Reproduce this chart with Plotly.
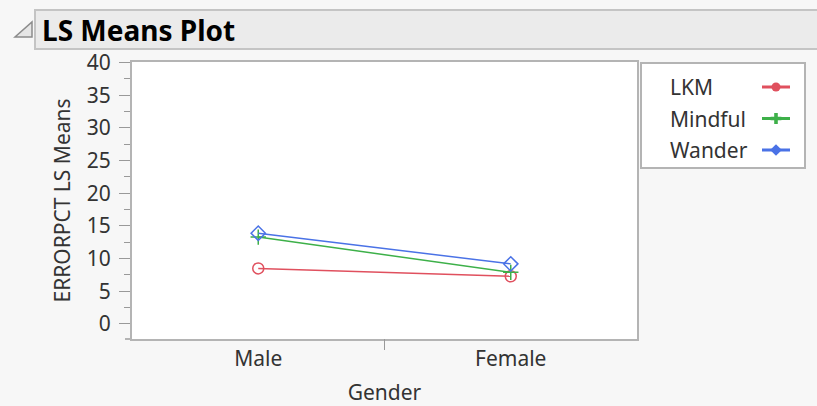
import plotly.graph_objects as go

categories = ["Male", "Female"]
series_names = ["LKM", "Mindful", "Wander"]
lkm = [8.5, 7.3]
mindful = [13.3, 7.9]
wander = [13.9, 9.2]
y_ticks = [0, 5, 10, 15, 20, 25, 30, 35, 40]

colors = ["#e0505e", "#3db049", "#4a72e6"]
symbols = ["circle-open", "cross-thin-open", "diamond-open"]
legend_symbols = ["circle", "cross", "diamond"]
values = [lkm, mindful, wander]

W, H = 817, 406
ML, MR, MT, MB = 132, 12, 62, 67
PW = W - ML - MR
PH = H - MT - MB
PLOT_R = 637

def px(x):
    return (x - ML) / PW

def py(y):
    return (H - MB - y) / PH

FONT = "Segoe UI, Noto Sans, Open Sans, sans-serif"
FS = 21

fig = go.Figure()
for name, vals, c, s in zip(series_names, values, colors, symbols):
    fig.add_trace(go.Scatter(
        x=categories, y=vals, mode="lines+markers", name=name,
        line=dict(color=c, width=1.5),
        marker=dict(symbol=s, size=11, color=c, line=dict(color=c, width=1.5)),
        showlegend=False, xaxis="x", yaxis="y",
    ))

# legend glyphs on a helper axis
for i, (name, c, s) in enumerate(zip(series_names, colors, legend_symbols)):
    fig.add_trace(go.Scatter(
        x=[0, 0.5, 1], y=[i + 1] * 3, mode="lines",
        line=dict(color=c, width=3), showlegend=False, hoverinfo="skip",
        xaxis="x2", yaxis="y2",
    ))
    fig.add_trace(go.Scatter(
        x=[0.5], y=[i + 1], mode="markers",
        marker=dict(symbol=s, size=9, color=c, line=dict(width=0)),
        showlegend=False, hoverinfo="skip", xaxis="x2", yaxis="y2",
    ))

main_dom_x = [0, px(PLOT_R)]

fig.update_layout(
    width=W, height=H,
    margin=dict(l=ML, r=MR, t=MT, b=MB, autoexpand=False),
    paper_bgcolor="#f7f7f7", plot_bgcolor="#ffffff",
    font=dict(family=FONT, size=FS, color="#333333"),
    xaxis=dict(
        domain=main_dom_x, type="category", range=[-0.5, 1.5], automargin=False,
        showline=True, linecolor="#b4b4b4", linewidth=2, mirror=True,
        showgrid=False, zeroline=False, ticks="",
        tickfont=dict(size=FS, color="#333333"),
        title=dict(text="Gender", font=dict(size=FS, color="#333333"), standoff=14),
    ),
    yaxis=dict(
        range=[-2.3, 40.1], tickvals=y_ticks, automargin=False,
        showline=True, linecolor="#b4b4b4", linewidth=2, mirror=True,
        showgrid=False, zeroline=False,
        ticks="outside", ticklen=11, tickcolor="#999999", tickwidth=1,
        ticklabelstandoff=4,
        minor=dict(dtick=2.5, tick0=0, ticks="outside", ticklen=6, tickcolor="#999999", tickwidth=1),
        tickfont=dict(size=FS, color="#333333"),
        title=dict(text="ERRORPCT LS Means", font=dict(size=FS, color="#333333"), standoff=10),
    ),
    xaxis2=dict(domain=[px(762), px(790)], range=[0, 1], visible=False, fixedrange=True),
    yaxis2=dict(domain=[py(165.75), py(71.25)], range=[3.5, 0.5], visible=False, fixedrange=True,
                anchor="x2"),
)

shapes = []
# title bar
shapes.append(dict(type="rect", xref="paper", yref="paper",
                   x0=px(35), x1=px(830), y0=py(49), y1=py(10),
                   fillcolor="#ebebeb", line=dict(color="#c4c4c4", width=2), layer="below"))
# triangle icon
shapes.append(dict(type="path", xref="paper", yref="paper",
                   path=f"M {px(15)},{py(37)} L {px(32)},{py(37)} L {px(32)},{py(22)} Z",
                   fillcolor="#e6e6e6", line=dict(color="#8c8c8c", width=1.5)))
# legend box
shapes.append(dict(type="rect", xref="paper", yref="paper",
                   x0=px(641), x1=px(805), y0=py(168), y1=py(63),
                   fillcolor="#ffffff", line=dict(color="#b4b4b4", width=2), layer="below"))
# x boundary tick
shapes.append(dict(type="line", xref="x", yref="paper", x0=0.5, x1=0.5,
                   y0=0, y1=py(350), line=dict(color="#999999", width=1)))
# x-axis line extension to the left
shapes.append(dict(type="line", xref="paper", yref="paper", x0=px(125), x1=0,
                   y0=0, y1=0, line=dict(color="#b4b4b4", width=2)))
fig.update_layout(shapes=shapes)

ann = [dict(text="<b>LS Means Plot</b>", xref="paper", yref="paper",
            x=px(40), y=py(30), xanchor="left", yanchor="middle", showarrow=False,
            font=dict(family=FONT, size=28, color="#000000"))]
for i, name in enumerate(series_names):
    ann.append(dict(text=name, xref="paper", yref="paper",
                    x=px(668), y=py(87 + i * 31.5), xanchor="left", yanchor="middle",
                    showarrow=False, font=dict(family=FONT, size=FS, color="#333333")))
fig.update_layout(annotations=ann)

fig.write_html(
    "out.html",
    config={"displayModeBar": False},
    post_script="document.body.style.margin='0';document.body.style.background='#f7f7f7';",
)
